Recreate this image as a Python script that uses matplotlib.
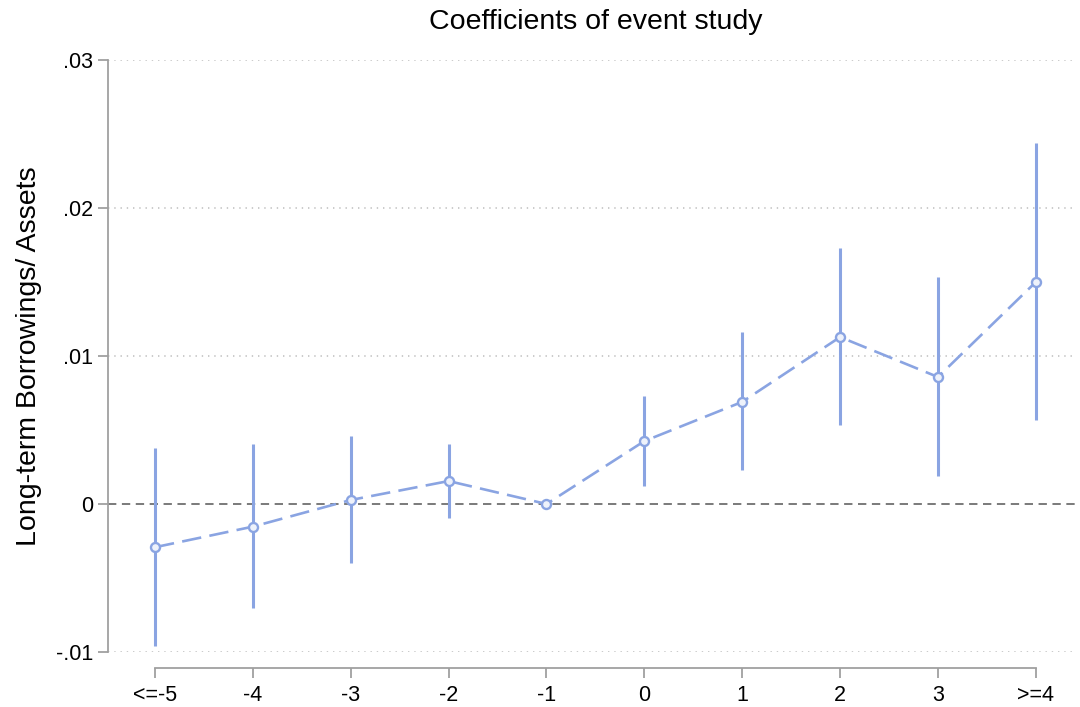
import numpy as np
import matplotlib
matplotlib.use("Agg")
import matplotlib.pyplot as plt

plt.rcParams["font.family"] = ["Liberation Sans", "DejaVu Sans"]
plt.rcParams["lines.scale_dashes"] = False

# event-time bins and estimated coefficients with 95% CIs
periods = ["<=-5", "-4", "-3", "-2", "-1", "0", "1", "2", "3", ">=4"]
coef = [-0.00292, -0.00153, 0.00027, 0.00155, 0.0, 0.00425, 0.0069, 0.01128, 0.00858, 0.0150]
ci_low = [-0.0096, -0.00706, -0.0040, -0.00092, 0.0, 0.00121, 0.00229, 0.00533, 0.0019, 0.00568]
ci_high = [0.0038, 0.00405, 0.00459, 0.00405, 0.0, 0.0073, 0.01162, 0.01728, 0.01534, 0.02439]
yticks = [-0.01, 0.0, 0.01, 0.02, 0.03]
ytick_labels = ["-.01", "0", ".01", ".02", ".03"]

blue = "#8aa4e2"
axis_grey = "#a0a0a0"

fig = plt.figure(figsize=(10.8, 7.07), dpi=100)
ax = fig.add_axes([108 / 1080, 1 - 652 / 707, (1075 - 108) / 1080, (652 - 60) / 707])

x = np.arange(len(periods))
has_ci = np.array(ci_high) != np.array(ci_low)

# dotted grid, dashed reference line at zero
for t in yticks:
    if t != 0:
        ax.axhline(t, color="#bdbdbd", lw=1.1, ls=(0, (1, 3.5)), zorder=0)
ax.axhline(0, color="#707070", lw=1.3, ls=(0, (6, 4)), zorder=1)

ax.vlines(x[has_ci], np.array(ci_low)[has_ci], np.array(ci_high)[has_ci],
          color=blue, lw=2.2, zorder=2)
ax.plot(x, coef, color=blue, lw=1.9, ls=(0, (14, 6)), zorder=3)
ax.plot(x, coef, ls="none", marker="o", ms=6.5, mfc="#eef2fb", mec=blue, mew=1.7, zorder=4)

ax.set_xlim(-0.48, 9.4)
ax.set_ylim(-0.01, 0.03)
ax.set_xticks(x)
ax.set_xticklabels(periods)
ax.set_yticks(yticks)
ax.set_yticklabels(ytick_labels)

for side in ("top", "right"):
    ax.spines[side].set_visible(False)
ax.spines["left"].set_color(axis_grey)
ax.spines["left"].set_linewidth(1.3)
ax.spines["left"].set_bounds(-0.01, 0.03)
ax.spines["bottom"].set_color(axis_grey)
ax.spines["bottom"].set_linewidth(1.3)
ax.spines["bottom"].set_position(("outward", 11.5))
ax.spines["bottom"].set_bounds(0, 9)

ax.tick_params(axis="both", colors=axis_grey, labelcolor="black", labelsize=15.5,
               length=7.5, width=1.3, direction="out")
ax.tick_params(axis="y", pad=3)
ax.tick_params(axis="x", pad=5)

ax.set_ylabel("Long-term Borrowings/ Assets", fontsize=20.5, labelpad=10)
fig.text(596 / 1080, 1 - 22 / 707, "Coefficients of event study",
         ha="center", va="center", fontsize=20.5)

fig.savefig("out.png", dpi=100, facecolor="white")
